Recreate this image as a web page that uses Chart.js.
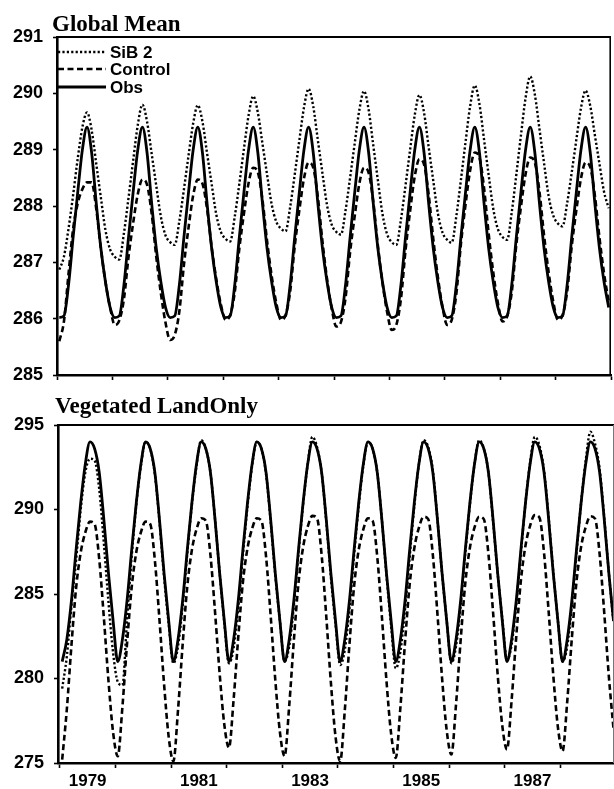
<!DOCTYPE html>
<html><head><meta charset="utf-8">
<script src="https://cdn.jsdelivr.net/npm/chart.js@4.4.0/dist/chart.umd.min.js"></script>
<style>
html,body{margin:0;padding:0;background:#fff;}
#wrap{position:relative;width:614px;height:789px;overflow:hidden;background:#fff;}
canvas{position:absolute;left:0;}
#c1{top:0}
#c2{top:390px}
</style></head><body>
<div id="wrap"><canvas id="c1" width="614" height="400"></canvas><canvas id="c2" width="614" height="399"></canvas></div>
<script>
// ---------- data ----------
const seriesNames = ['SiB 2', 'Control', 'Obs'];
const panelTitles = ['Global Mean', 'Vegetated LandOnly'];
const yearLabels = ['1979', '1981', '1983', '1985', '1987'];
const yearLabelMonths = [6, 30, 54, 78, 102];           // mid-year, months since Jan 1979
const yearBoundaryMonths = [0, 12, 24, 36, 48, 60, 72, 84, 96, 108, 120];
const globalTicks = [285, 286, 287, 288, 289, 290, 291];
const vegTicks = [275, 280, 285, 290, 295];

// Global mean (K), monthly Jan 1979 - Dec 1988
const sib2Global = [
 286.87,287.10,287.60,288.20,288.85,289.40,289.66,289.35,288.75,288.15,287.57,287.23,
 287.10,287.05,287.52,288.15,288.81,289.44,289.80,289.50,288.93,288.36,287.81,287.48,
 287.36,287.31,287.73,288.30,288.90,289.47,289.79,289.50,288.94,288.39,287.85,287.54,
 287.42,287.37,287.81,288.40,289.02,289.61,289.95,289.66,289.11,288.56,288.03,287.72,
 287.60,287.55,287.98,288.56,289.17,289.75,290.08,289.77,289.17,288.58,288.01,287.67,
 287.54,287.49,287.92,288.51,289.12,289.71,290.04,289.71,289.08,288.46,287.86,287.50,
 287.36,287.31,287.76,288.37,289.01,289.62,289.97,289.66,289.05,288.45,287.87,287.53,
 287.40,287.35,287.82,288.47,289.14,289.78,290.14,289.81,289.18,288.55,287.95,287.59,
 287.45,287.40,287.89,288.56,289.26,289.92,290.30,289.98,289.37,288.76,288.17,287.83,
 287.69,287.64,288.05,288.60,289.18,289.74,290.05,289.78,289.26,288.75,288.25,287.96
];
const controlGlobal = [
 285.60,285.95,286.80,287.60,288.05,288.30,288.42,288.42,287.95,287.25,286.65,286.20,
 285.89,285.97,286.35,287.10,287.70,288.21,288.47,288.38,287.87,287.10,286.45,285.93,
 285.62,285.71,286.13,286.96,287.62,288.19,288.47,288.40,287.95,287.27,286.70,286.25,
 285.98,286.06,286.47,287.25,287.87,288.41,288.68,288.60,288.11,287.38,286.76,286.28,
 285.98,286.06,286.48,287.29,287.93,288.49,288.77,288.68,288.16,287.37,286.70,286.18,
 285.86,285.94,286.37,287.19,287.83,288.40,288.68,288.59,288.08,287.30,286.64,286.12,
 285.80,285.89,286.35,287.22,287.92,288.53,288.83,288.74,288.21,287.42,286.74,286.21,
 285.89,285.98,286.44,287.33,288.03,288.64,288.95,288.86,288.32,287.51,286.82,286.28,
 285.95,286.04,286.47,287.32,287.99,288.57,288.86,288.77,288.26,287.48,286.82,286.30,
 285.98,286.06,286.48,287.29,287.93,288.49,288.77,288.69,288.19,287.44,286.80,286.30
];
const obsGlobal = [
 286.02,286.05,286.60,287.45,288.25,289.00,289.40,288.95,288.05,287.25,286.65,286.20,
 286.02,286.05,286.60,287.45,288.25,289.00,289.40,288.95,288.05,287.25,286.65,286.20,
 286.02,286.05,286.60,287.45,288.25,289.00,289.40,288.95,288.05,287.25,286.65,286.20,
 286.02,286.05,286.60,287.45,288.25,289.00,289.40,288.95,288.05,287.25,286.65,286.20,
 286.02,286.05,286.60,287.45,288.25,289.00,289.40,288.95,288.05,287.25,286.65,286.20,
 286.02,286.05,286.60,287.45,288.25,289.00,289.40,288.95,288.05,287.25,286.65,286.20,
 286.02,286.05,286.60,287.45,288.25,289.00,289.40,288.95,288.05,287.25,286.65,286.20,
 286.02,286.05,286.60,287.45,288.25,289.00,289.40,288.95,288.05,287.25,286.65,286.20,
 286.02,286.05,286.60,287.45,288.25,289.00,289.40,288.95,288.05,287.25,286.65,286.20,
 286.02,286.05,286.60,287.45,288.25,289.00,289.40,288.95,288.05,287.25,286.65,286.20
];

// Vegetated land only (K)
const sib2Veg = [
 279.4,281.3,284.3,287.0,290.0,292.2,293.0,292.9,291.2,288.0,284.5,281.5,
 279.8,279.6,283.5,287.2,290.3,292.6,294.0,293.6,292.1,289.3,286.0,283.2,
 280.9,281.9,284.3,287.4,290.3,292.6,294.1,293.6,292.2,289.4,286.2,283.3,
 280.9,281.8,284.2,287.3,290.2,292.6,294.0,293.6,292.1,289.3,286.1,283.4,
 281.0,281.9,284.3,287.4,290.3,292.7,294.3,293.7,292.2,289.3,286.0,283.2,
 280.8,281.7,284.1,287.3,290.2,292.6,294.0,293.6,292.2,289.4,286.1,283.1,
 280.6,281.6,284.1,287.2,290.2,292.7,294.1,293.7,292.3,289.4,286.2,283.4,
 280.9,281.9,284.3,287.4,290.3,292.7,294.1,293.6,292.2,289.3,286.2,283.5,
 281.1,282.0,284.4,287.4,290.4,292.8,294.3,293.8,292.3,289.5,286.3,283.4,
 281.0,281.9,284.3,287.4,290.4,292.9,294.6,293.9,292.4,289.5,286.2,283.3
];
const controlVeg = [
 275.20,278.16,281.96,285.34,287.45,288.65,289.28,289.14,287.06,283.59,279.84,276.79,
 275.40,278.31,282.06,285.39,287.48,288.66,289.28,289.14,287.01,283.47,279.64,276.52,
 275.10,278.12,282.00,285.45,287.61,288.83,289.48,289.34,287.31,283.91,280.25,277.26,
 275.90,278.75,282.42,285.68,287.71,288.87,289.48,289.34,287.23,283.71,279.91,276.81,
 275.40,278.39,282.23,285.64,287.77,288.98,289.62,289.48,287.30,283.67,279.75,276.55,
 275.10,278.12,282.00,285.45,287.61,288.83,289.48,289.34,287.21,283.67,279.84,276.72,
 275.30,278.30,282.15,285.57,287.71,288.93,289.57,289.43,287.32,283.80,280.00,276.91,
 275.50,278.45,282.25,285.63,287.74,288.94,289.57,289.43,287.37,283.92,280.21,277.18,
 275.80,278.71,282.46,285.79,287.87,289.05,289.67,289.53,287.43,283.94,280.17,277.10,
 275.70,278.62,282.37,285.71,287.79,288.97,289.60,289.46,287.36,283.86,280.08,277.00
];
const obsVeg = [
 281.0,282.3,284.6,287.6,290.4,292.7,294.0,293.6,292.2,289.4,286.2,283.4,
 281.0,282.3,284.6,287.6,290.4,292.7,294.0,293.6,292.2,289.4,286.2,283.4,
 281.0,282.3,284.6,287.6,290.4,292.7,294.0,293.6,292.2,289.4,286.2,283.4,
 281.0,282.3,284.6,287.6,290.4,292.7,294.0,293.6,292.2,289.4,286.2,283.4,
 281.0,282.3,284.6,287.6,290.4,292.7,294.0,293.6,292.2,289.4,286.2,283.4,
 281.0,282.3,284.6,287.6,290.4,292.7,294.0,293.6,292.2,289.4,286.2,283.4,
 281.0,282.3,284.6,287.6,290.4,292.7,294.0,293.6,292.2,289.4,286.2,283.4,
 281.0,282.3,284.6,287.6,290.4,292.7,294.0,293.6,292.2,289.4,286.2,283.4,
 281.0,282.3,284.6,287.6,290.4,292.7,294.0,293.6,292.2,289.4,286.2,283.4,
 281.0,282.3,284.6,287.6,290.4,292.7,294.0,293.6,292.2,289.4,286.2,283.4
];

// ---------- rendering ----------
Chart.defaults.font.family = '"Liberation Sans", Arial, sans-serif';
Chart.defaults.font.weight = 'bold';
Chart.defaults.color = '#000';

const styles = [
  { borderDash: [2.2, 2.2], borderWidth: 2.4 },
  { borderDash: [6, 3.5], borderWidth: 2.6 },
  { borderDash: [], borderWidth: 2.8 }
];

function toPoints(arr) { return arr.map((v, i) => ({ x: i + 0.5, y: v })); }

function makeDatasets(list) {
  return list.map((arr, k) => ({
    label: seriesNames[k],
    data: toPoints(arr),
    borderColor: '#000',
    backgroundColor: '#000',
    borderWidth: styles[k].borderWidth,
    borderDash: styles[k].borderDash,
    borderCapStyle: 'butt',
    borderJoinStyle: 'round',
    pointRadius: 0,
    cubicInterpolationMode: 'monotone',
    fill: false
  }));
}

const tickMonths = Array.from(new Set(yearBoundaryMonths.concat(yearLabelMonths))).sort((a, b) => a - b);

const decor = {
  id: 'decor',
  afterDraw(chart, args, o) {
    const ctx = chart.ctx, a = chart.chartArea;
    ctx.save();
    ctx.strokeStyle = '#000';
    ctx.setLineDash([]);
    ctx.lineWidth = o.topWidth;
    ctx.beginPath(); ctx.moveTo(a.left, a.top); ctx.lineTo(a.right, a.top); ctx.stroke();
    ctx.lineWidth = o.rightWidth;
    ctx.strokeStyle = o.rightColor;
    ctx.beginPath(); ctx.moveTo(a.right - o.rightWidth / 2, a.top); ctx.lineTo(a.right - o.rightWidth / 2, a.bottom); ctx.stroke();
    ctx.fillStyle = '#000';
    ctx.font = 'bold 23px "Liberation Serif", "Times New Roman", serif';
    ctx.textBaseline = 'alphabetic';
    ctx.textAlign = 'left';
    ctx.fillText(o.title, o.titleX, o.titleY);
    if (o.legend) {
      ctx.font = 'bold 17px "Liberation Sans", Arial, sans-serif';
      ctx.textBaseline = 'middle';
      chart.data.datasets.forEach((ds, i) => {
        const y = o.legendY[i];
        ctx.strokeStyle = '#000';
        ctx.lineWidth = ds.borderWidth;
        ctx.setLineDash(ds.borderDash);
        ctx.beginPath(); ctx.moveTo(a.left + 1, y); ctx.lineTo(a.left + 49, y); ctx.stroke();
        ctx.setLineDash([]);
        ctx.fillText(ds.label, a.left + 53, y + 1);
      });
    }
    ctx.restore();
  }
};

function makeChart(id, opt) {
  return new Chart(document.getElementById(id), {
    type: 'line',
    data: { datasets: makeDatasets(opt.series) },
    options: {
      responsive: false,
      animation: false,
      events: [],
      layout: { padding: { top: opt.padTop, right: opt.padRight, left: 0, bottom: 0 } },
      plugins: {
        legend: { display: false },
        tooltip: { enabled: false },
        decor: opt.decor
      },
      scales: {
        x: {
          type: 'linear',
          min: opt.xMin, max: opt.xMax,
          afterBuildTicks: s => { s.ticks = tickMonths.filter(v => v >= s.min && v <= s.max).map(v => ({ value: v })); },
          afterFit: s => { s.height = opt.xHeight; },
          ticks: {
            autoSkip: false, maxRotation: 0, minRotation: 0, padding: 3,
            font: { size: 17, weight: 'bold' }, color: '#000',
            callback: v => { const k = yearLabelMonths.indexOf(v); return (opt.showYears && k >= 0) ? yearLabels[k] : ''; }
          },
          grid: {
            drawOnChartArea: false, tickLength: 5, tickWidth: 1.6,
            tickColor: c => (c.tick && yearBoundaryMonths.indexOf(c.tick.value) >= 0) ? '#000' : 'rgba(0,0,0,0)'
          },
          border: { color: '#000', width: 2.6 }
        },
        y: {
          min: opt.yTicks[0], max: opt.yTicks[opt.yTicks.length - 1],
          afterBuildTicks: s => { s.ticks = opt.yTicks.map(v => ({ value: v })); },
          afterFit: s => { s.width = opt.yWidth; },
          ticks: { font: { size: 18, weight: 'bold' }, color: '#000', padding: 10, callback: v => String(v) },
          grid: { drawOnChartArea: false, tickLength: 4, tickWidth: 1.6, tickColor: '#000' },
          border: { color: '#000', width: 2.6 }
        }
      }
    },
    plugins: [decor]
  });
}

makeChart('c1', {
  series: [sib2Global, controlGlobal, obsGlobal],
  yTicks: globalTicks, xMin: 0, xMax: 120, padTop: 37, padRight: 1, xHeight: 25, yWidth: 57, showYears: false,
  decor: { title: panelTitles[0], titleX: 52, titleY: 31, topWidth: 2, rightWidth: 1.6, rightColor: '#000', legend: true, legendY: [52, 69, 87] }
});
makeChart('c2', {
  series: [sib2Veg, controlVeg, obsVeg],
  yTicks: vegTicks, xMin: -0.4, xMax: 119.6, padTop: 35, padRight: 0, xHeight: 26, yWidth: 58, showYears: true,
  decor: { title: panelTitles[1], titleX: 55, titleY: 23, topWidth: 2.2, rightWidth: 1, rightColor: '#777', legend: false }
});
</script>
</body></html>
